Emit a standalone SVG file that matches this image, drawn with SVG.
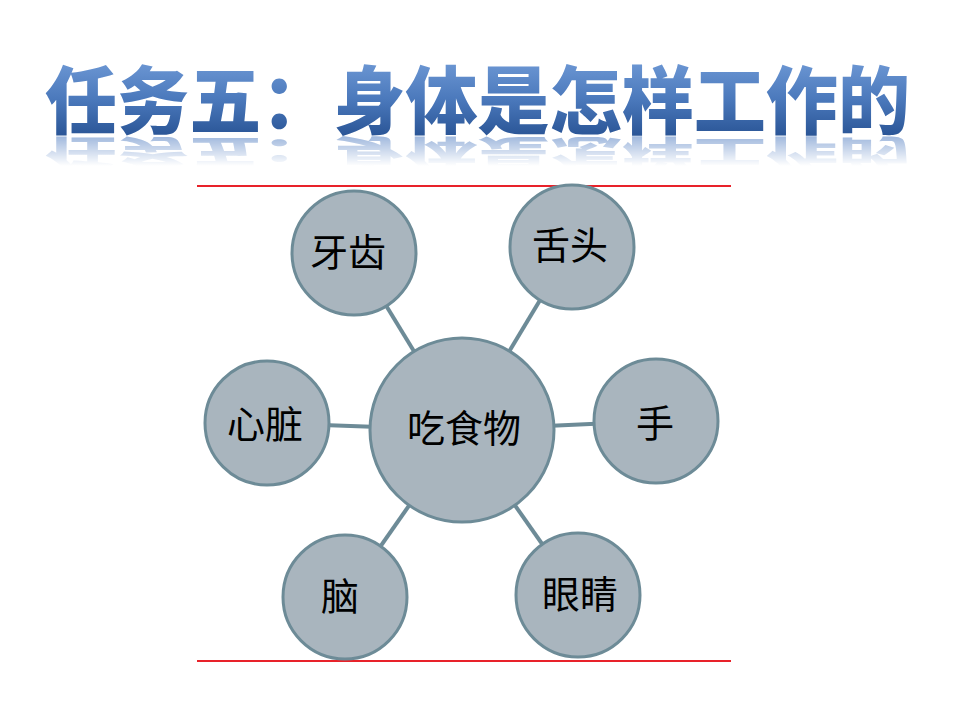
<svg xmlns="http://www.w3.org/2000/svg" width="960" height="720" viewBox="0 0 960 720">
<defs>
<linearGradient id="tg" x1="0" y1="64" x2="0" y2="136" gradientUnits="userSpaceOnUse">
<stop offset="0" stop-color="#6a95d2"/>
<stop offset="0.5" stop-color="#4a78bb"/>
<stop offset="1" stop-color="#2a5596"/>
</linearGradient>
<linearGradient id="rg" x1="0" y1="136" x2="0" y2="166" gradientUnits="userSpaceOnUse">
<stop offset="0" stop-color="#fff" stop-opacity="0.6"/>
<stop offset="1" stop-color="#fff" stop-opacity="0"/>
</linearGradient>
<mask id="rm" maskUnits="userSpaceOnUse" x="0" y="130" width="960" height="50">
<rect x="0" y="130" width="960" height="50" fill="url(#rg)"/>
</mask>
</defs>
<style>
.title{font-family:"Noto Sans CJK SC","Noto Sans CJK JP",sans-serif;font-weight:900;font-size:74px}
.node circle{fill:#a9b5be;stroke:#6d8b97;stroke-width:3}
.node text{font-family:"Noto Sans CJK SC",sans-serif;font-size:38px;fill:#000;text-anchor:middle}
.conn line{stroke:#6d8b97;stroke-width:4}
.rule{stroke:#e8222a;stroke-width:2}
</style>
<rect width="960" height="720" fill="#fff"/>
<g id="title">
<g mask="url(#rm)">
<text class="title" x="45" y="128" textLength="865" lengthAdjust="spacingAndGlyphs" fill="#5f88c6" transform="translate(0,197.2) scale(1,-0.45)">任务五：身体是怎样工作的</text>
</g>
<text class="title" x="45" y="128" textLength="865" lengthAdjust="spacingAndGlyphs" fill="url(#tg)">任务五：身体是怎样工作的</text>
</g>
<line class="rule" x1="197" y1="186" x2="731" y2="186"/>
<line class="rule" x1="197" y1="661" x2="731" y2="661"/>
<g id="connectors" class="conn">
<line x1="462" y1="430" x2="354" y2="253"/>
<line x1="462" y1="430" x2="572" y2="247"/>
<line x1="462" y1="430" x2="267" y2="423"/>
<line x1="462" y1="430" x2="656" y2="421"/>
<line x1="462" y1="430" x2="345" y2="597"/>
<line x1="462" y1="430" x2="578" y2="595"/>
</g>
<g id="center" class="node"><circle cx="462" cy="430" r="92"/><text x="464" y="442">吃食物</text></g>
<g id="teeth" class="node"><circle cx="354" cy="253" r="62"/><text x="348" y="266">牙齿</text></g>
<g id="tongue" class="node"><circle cx="572" cy="247" r="62"/><text x="570" y="259">舌头</text></g>
<g id="heart" class="node"><circle cx="267" cy="423" r="62"/><text x="265" y="438">心脏</text></g>
<g id="hand" class="node"><circle cx="656" cy="421" r="62"/><text x="655" y="437">手</text></g>
<g id="brain" class="node"><circle cx="345" cy="597" r="62"/><text x="340" y="610">脑</text></g>
<g id="eyes" class="node"><circle cx="578" cy="595" r="62"/><text x="580" y="608">眼睛</text></g>
</svg>
